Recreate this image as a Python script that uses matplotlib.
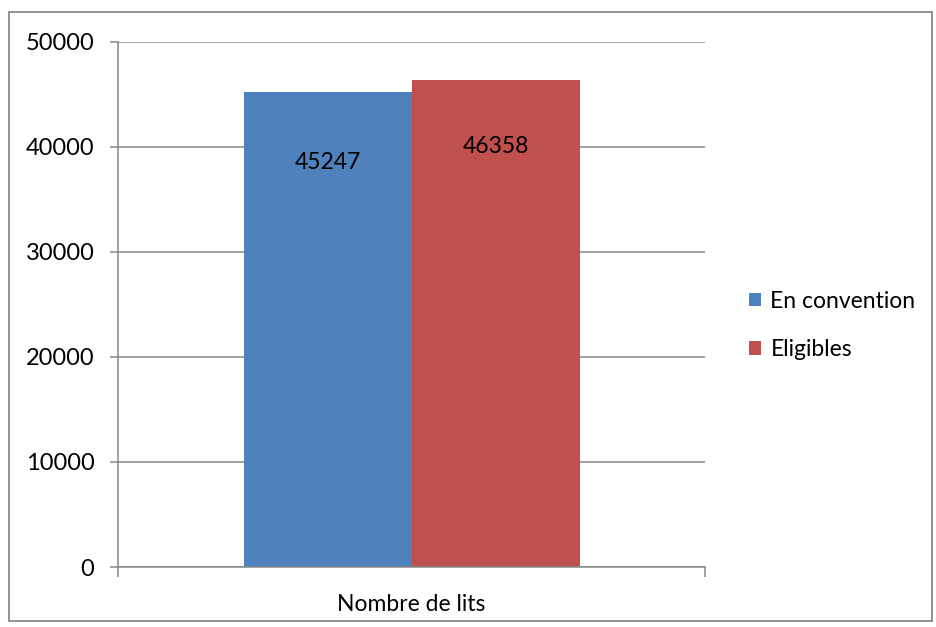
import matplotlib.pyplot as plt
from matplotlib.patches import Rectangle

categories = ['Nombre de lits']
series_names = ['En convention', 'Eligibles']
series_values = [45247, 46358]
series_colors = ['#4f81bd', '#c0504d']
yticks = [0, 10000, 20000, 30000, 40000, 50000]

plt.rcParams['font.family'] = ['Lato', 'DejaVu Sans']

W, H = 936, 627
fig = plt.figure(figsize=(W / 100, H / 100), dpi=100)
# plot area in pixels: left 118, right 705, top 42, bottom 567
ax = fig.add_axes([118 / W, 1 - 567 / H, (705 - 118) / W, (567 - 42) / H])

# outer chart border
fig.patches.append(Rectangle((9 / W, 1 - 621 / H), (932 - 9) / W, (621 - 12) / H,
                             transform=fig.transFigure, fill=False,
                             edgecolor='#898989', lw=1.3))

bar_w = 168 / 587
offsets = [-bar_w / 2, bar_w / 2]
label_drop = [-51, -48]
for i, (name, val, col) in enumerate(zip(series_names, series_values, series_colors)):
    ax.bar(0 + offsets[i], val, width=bar_w, color=col, label=name, zorder=2)
    ax.annotate(str(val), (offsets[i], val), xytext=(0, label_drop[i]),
                textcoords='offset points', ha='center', va='center',
                fontsize=16.5, color='black', zorder=3)

ax.set_xlim(-0.5, 0.5)
ax.set_ylim(0, 50000)
ax.set_yticks(yticks)
ax.set_yticklabels([str(t) for t in yticks], fontsize=17)
ax.yaxis.grid(True, color='#868686', lw=1.1, zorder=0)
ax.set_axisbelow(True)
ax.tick_params(axis='y', length=6, width=1.1, color='#868686', pad=11)
ax.set_xticks([-0.5, 0.5])
ax.set_xticklabels(['', ''])
ax.tick_params(axis='x', length=7, width=1.1, color='#868686')
ax.text(0.5, -0.072, categories[0], transform=ax.transAxes, ha='center', va='center',
        fontsize=16.5)
for s in ['top', 'right']:
    ax.spines[s].set_visible(False)
for s in ['left', 'bottom']:
    ax.spines[s].set_color('#868686')
    ax.spines[s].set_linewidth(1.1)

leg = fig.legend(loc='upper left', bbox_to_anchor=(728 / W, 1 - 270 / H),
                 frameon=False, fontsize=16.5, handlelength=0.55, handleheight=0.55,
                 handletextpad=0.4, labelspacing=1.2)

fig.savefig('out.png', dpi=100)
